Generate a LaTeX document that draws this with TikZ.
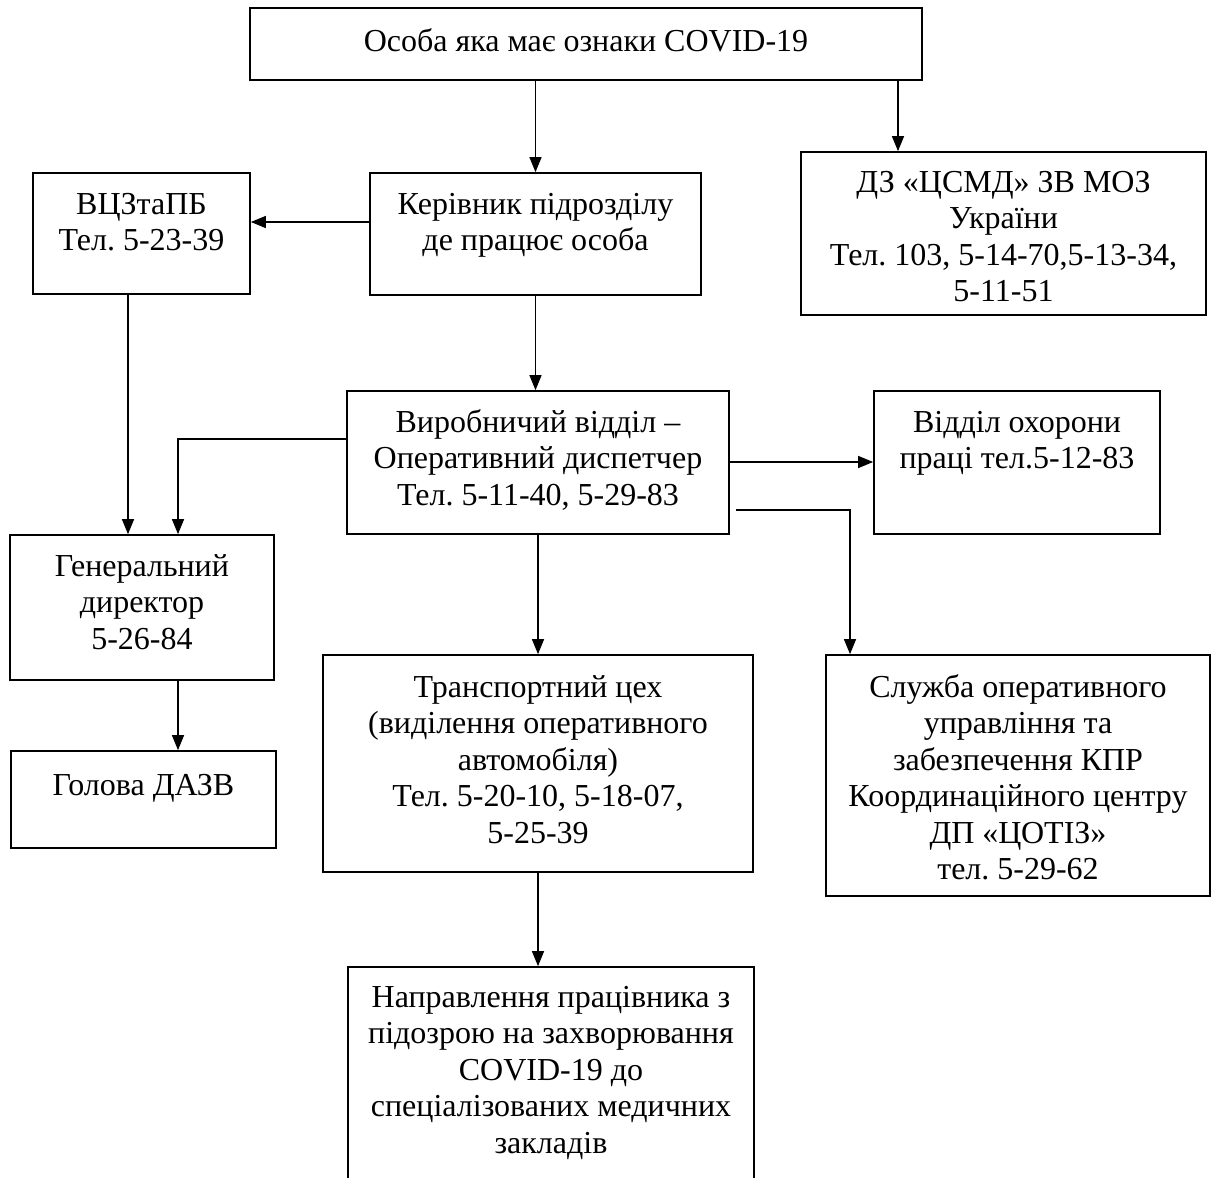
\documentclass[tikz,border=0pt]{standalone}
\usepackage{fontspec}
\setmainfont{Liberation Serif}
\usetikzlibrary{arrows.meta,fit,calc}
\newcommand\fl{\rule{0pt}{24pt}}
\begin{document}
\frenchspacing
\begin{tikzpicture}[x=1pt,y=-1pt,
  box/.style={draw, line width=1.7pt, inner sep=0pt},
  txt/.style={anchor=north, inner sep=0pt, align=center, font=\fontsize{32}{36.5}\selectfont\frenchspacing},
  arr/.style={line width=1.3pt, -{Triangle[length=15pt,width=12pt]}}]
\useasboundingbox (0,0) rectangle (1216,1178);
\fill[white] (0,0) rectangle (1216,1178);
\clip (0,0) rectangle (1216,1178);
% boxes
\node[box, fit={(250,8) (922,80)}] (top) {};
\node[box, fit={(33,173) (250,294)}] (vcz) {};
\node[box, fit={(370,173) (701,295)}] (ker) {};
\node[box, fit={(801,152) (1206,315)}] (dz) {};
\node[box, fit={(347,391) (729,534)}] (vyr) {};
\node[box, fit={(874,391) (1160,534)}] (ohor) {};
\node[box, fit={(10,535) (274,680)}] (gen) {};
\node[box, fit={(11,751) (276,848)}] (hol) {};
\node[box, fit={(323,655) (753,872)}] (tr) {};
\node[box, fit={(826,655) (1210,896)}] (sl) {};
\node[box, fit={(348,967) (754,1200)}] (napr) {};
% texts
\node[txt] (top-t) at ([yshift=-20pt]top.north) {\fl Особа яка має ознаки COVID-19};
\node[txt] (vcz-t) at ([yshift=-18pt]vcz.north) {\fl ВЦЗтаПБ\\Тел. 5-23-39};
\node[txt] (ker-t) at ([yshift=-18pt]ker.north) {\fl Керівник підрозділу\\де працює особа};
\node[txt] (dz-t) at ([yshift=-17pt]dz.north) {\fl ДЗ «ЦСМД» ЗВ МОЗ\\України\\Тел. 103, 5-14-70,5-13-34,\\5-11-51};
\node[txt] (vyr-t) at ([yshift=-18pt]vyr.north) {\fl Виробничий відділ –\\Оперативний диспетчер\\Тел. 5-11-40, 5-29-83};
\node[txt] (ohor-t) at ([yshift=-18pt]ohor.north) {\fl Відділ охорони\\праці тел.5-12-83};
\node[txt] (gen-t) at ([yshift=-18pt]gen.north) {\fl Генеральний\\директор\\5-26-84};
\node[txt] (hol-t) at ([yshift=-21pt]hol.north) {\fl Голова ДАЗВ};
\node[txt] (tr-t) at ([yshift=-19pt]tr.north) {\fl Транспортний цех\\(виділення оперативного\\автомобіля)\\Тел. 5-20-10, 5-18-07,\\5-25-39};
\node[txt] (sl-t) at ([yshift=-19pt]sl.north) {\fl Служба оперативного\\управління та\\забезпечення КПР\\Координаційного центру\\ДП «ЦОТІЗ»\\тел. 5-29-62};
\node[txt] (napr-t) at ([yshift=-17pt]napr.north) {\fl Направлення працівника з\\підозрою на захворювання\\COVID-19 до\\спеціалізованих медичних\\закладів};
% helper coordinates
\coordinate (xdz) at (898,0);
\coordinate (yvc) at (0,222);
\coordinate (xvc) at (128,0);
\coordinate (yl) at (0,439);
\coordinate (xl) at (178,0);
\coordinate (yo) at (0,462);
\coordinate (ys) at (0,510);
\coordinate (xs) at (850,0);
\coordinate (vyrE) at ([xshift=6pt]vyr.east);
% connectors
\draw[arr] (top.south -| ker.north) -- (ker.north);
\draw[arr] (top.south -| xdz) -- (dz.north -| xdz);
\draw[arr] (ker.west |- yvc) -- (vcz.east |- yvc);
\draw[arr] (ker.south) -- (ker.south |- vyr.north);
\draw[arr] (vcz.south -| xvc) -- (gen.north -| xvc);
\draw[arr] (vyr.west |- yl) -- (xl |- yl) -- (gen.north -| xl);
\draw[arr] (vyr.east |- yo) -- (ohor.west |- yo);
\draw[arr] (vyrE |- ys) -- (xs |- ys) -- (sl.north -| xs);
\draw[arr] (vyr.south) -- (vyr.south |- tr.north);
\draw[arr] (gen.south -| xl) -- (hol.north -| xl);
\draw[arr] (tr.south) -- (tr.south |- napr.north);
\end{tikzpicture}
\end{document}
